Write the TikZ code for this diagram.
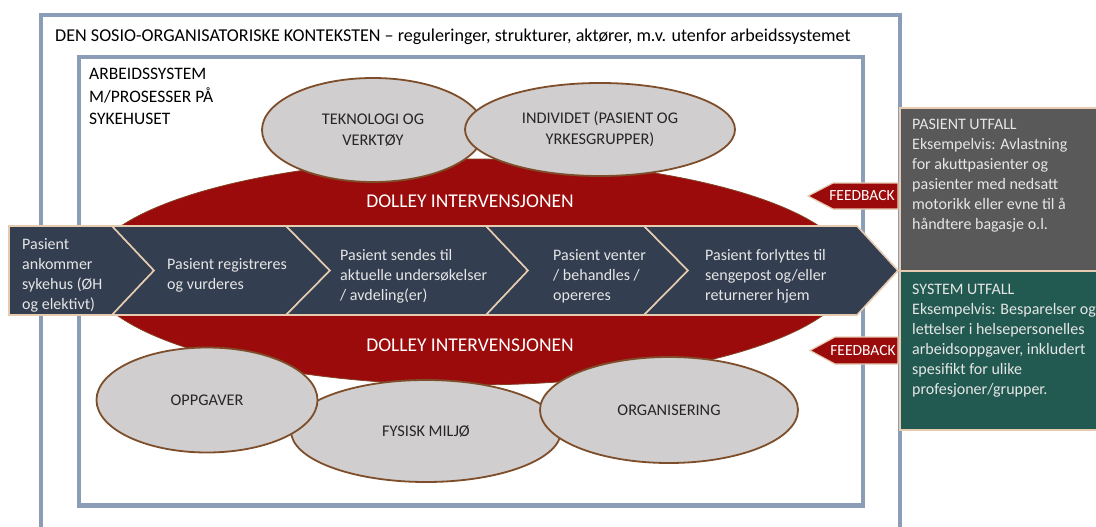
\documentclass[tikz,border=0pt]{standalone}
\usepackage{fontspec}
\setmainfont{Carlito}
\usetikzlibrary{shapes.geometric}

\definecolor{frameblue}{HTML}{8B9DB7}
\definecolor{dolleyred}{HTML}{9C0B0B}
\definecolor{ellgray}{HTML}{D0CECE}
\definecolor{ellbrown}{HTML}{7E4E2A}
\definecolor{chevfill}{HTML}{333E50}
\definecolor{peach}{HTML}{E7CBB0}
\definecolor{inktext}{HTML}{262626}
\definecolor{paletext}{HTML}{E6E6E6}
\definecolor{patientbox}{HTML}{595959}
\definecolor{systembox}{HTML}{225A52}

\tikzset{
  frame/.style={draw=frameblue, line width=4.5pt},
  factor/.style={ellipse, draw=ellbrown, line width=1.8pt, fill=ellgray,
    inner sep=0pt, text=inktext, align=center,
    font=\fontsize{16.3}{21}\selectfont},
  stage/.style={fill=chevfill, draw=peach, line width=1.6pt},
  stagetext/.style={anchor=west, align=left, text=paletext, inner sep=0pt,
    font=\fontsize{16}{20}\selectfont},
  dolley/.style={text=white, inner sep=0pt, font=\fontsize{19.5}{22}\selectfont},
  fbarrow/.style={fill=dolleyred, draw=peach, line width=1.2pt},
  fbtext/.style={text=white, inner sep=0pt, font=\fontsize{15.5}{18}\selectfont},
  outbox/.style={draw=peach, line width=2pt},
  outtext/.style={anchor=north west, align=left, text=paletext, inner sep=0pt,
    font=\fontsize{16}{20}\selectfont},
}

\begin{document}
\begin{tikzpicture}[x=1pt,y=-1pt]
\useasboundingbox (0,0) rectangle (1096,527);
\clip (0,0) rectangle (1096,527);
\fill[white] (0,0) rectangle (1096,527);

% context frame and work-system frame
\draw[frame] (41,15) rectangle (900,560);
\draw[frame] (79,57) rectangle (863,505.5);

\node[anchor=base west, inner sep=0pt, font=\fontsize{18.1}{21}\selectfont]
  (context) at (55,42) {DEN SOSIO-ORGANISATORISKE KONTEKSTEN -- reguleringer, strukturer, aktører, m.v. utenfor arbeidssystemet};
\node[anchor=north west, align=left, inner sep=0pt, font=\fontsize{17.5}{22.5}\selectfont]
  (worksys) at (89,68) {ARBEIDSSYSTEM\\M/PROSESSER PÅ\\SYKEHUSET};

% the intervention
\node[ellipse, fill=dolleyred, draw=ellbrown!80!dolleyred, line width=0.8pt,
  minimum width=764pt, minimum height=226pt, inner sep=0pt] (dolley) at (470,272) {};

% work-system factors
\node[factor, minimum width=222pt, minimum height=104pt] (tech) at (373,130) {TEKNOLOGI OG\\VERKTØY};
\node[factor, minimum width=270pt, minimum height=93pt] (indiv) at (600,129.5) {INDIVIDET (PASIENT OG\\YRKESGRUPPER)};
\node[factor, minimum width=270pt, minimum height=102pt] (phys) at (426,431) {FYSISK MILJØ};
\node[factor, minimum width=221pt, minimum height=105pt] (tasks) at (207,400) {OPPGAVER};
\node[factor, minimum width=258pt, minimum height=106pt] (org) at (669,410) {ORGANISERING};

\node[dolley] (dolleyup) at (470,201) {DOLLEY INTERVENSJONEN};
\node[dolley] (dolleydown) at (470,345) {DOLLEY INTERVENSJONEN};

% patient pathway chevrons
\draw[stage] (9,226) -- (112,226) -- (154,270.5) -- (112,315) -- (9,315) -- cycle;
\draw[stage] (112,226) -- (286,226) -- (330,270.5) -- (286,315) -- (112,315) -- (154,270.5) -- cycle;
\draw[stage] (286,226) -- (486,226) -- (528,270.5) -- (486,315) -- (286,315) -- (330,270.5) -- cycle;
\draw[stage] (486,226) -- (644,226) -- (688,270.5) -- (644,315) -- (486,315) -- (528,270.5) -- cycle;
\draw[stage] (644,226) -- (857,226) -- (898,270.5) -- (857,315) -- (644,315) -- (688,270.5) -- cycle;

\node[stagetext] (s1) at (22,275.5) {Pasient\\ankommer\\sykehus (ØH\\og elektivt)};
\node[stagetext] (s2) at (167,275.5) {Pasient registreres\\og vurderes};
\node[stagetext] (s3) at (340,276) {Pasient sendes til\\aktuelle undersøkelser\\/ avdeling(er)};
\node[stagetext] (s4) at (553,276.5) {Pasient venter\\/ behandles /\\opereres};
\node[stagetext] (s5) at (705,276.5) {Pasient forlyttes til\\sengepost og/eller\\returnerer hjem};

% outcomes
\draw[outbox, fill=patientbox] (900,108) rectangle (1110,271);
\draw[outbox, fill=systembox] (900,271) rectangle (1110,430);
\node[outtext] (patient) at (912,119) {PASIENT UTFALL\\Eksempelvis: Avlastning\\for akuttpasienter og\\pasienter med nedsatt\\motorikk eller evne til å\\håndtere bagasje o.l.};
\node[outtext] (system) at (912,283.5) {SYSTEM UTFALL\\Eksempelvis: Besparelser og\\lettelser i helsepersonelles\\arbeidsoppgaver, inkludert\\spesifikt for ulike\\profesjoner/grupper.};

% feedback arrows
\draw[fbarrow] (898,183) -- (833,183) -- (808,196) -- (833,209) -- (898,209) -- cycle;
\node[fbtext] (fbup) at (862,196) {FEEDBACK};
\draw[fbarrow] (898,337) -- (835,337) -- (810,350.5) -- (835,364) -- (898,364) -- cycle;
\node[fbtext] (fbdown) at (863,350.5) {FEEDBACK};
\end{tikzpicture}
\end{document}
